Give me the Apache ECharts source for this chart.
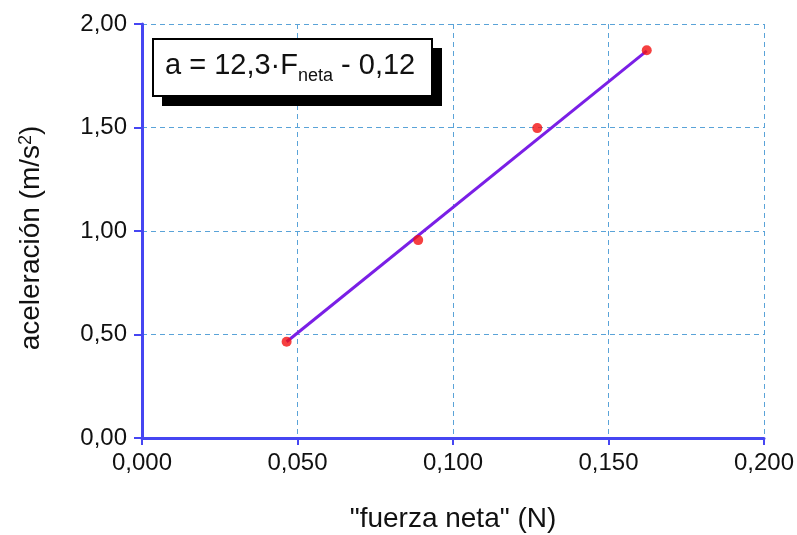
<!DOCTYPE html>
<html>
<head>
<meta charset="utf-8">
<script src="https://cdn.jsdelivr.net/npm/echarts@6/dist/echarts.min.js"></script>
<style>
  html, body { margin: 0; padding: 0; background: #fff; }
  #chart { width: 797px; height: 535px; }
</style>
</head>
<body>
<div id="chart"></div>
<script>
  // measured points
  var fuerza = [0.0465, 0.0888, 0.1271, 0.1623];
  var aceleracion = [0.465, 0.956, 1.497, 1.873];
  // fitted line ends
  var fitX = [0.0465, 0.1623];
  var fitY = [0.465, 1.87];

  var axisBlue = '#4646f2';
  var gridBlue = '#5aa3d8';
  var font = '"Liberation Sans", Arial, sans-serif';

  var chart = echarts.init(document.getElementById('chart'));

  var points = fuerza.map(function (x, i) { return [x, aceleracion[i]]; });
  var fit = fitX.map(function (x, i) { return [x, fitY[i]]; });

  var option = {
    animation: false,
    backgroundColor: '#fff',
    grid: { left: 142, right: 33, top: 24, bottom: 97, containLabel: false, outerBoundsMode: 'none' },
    xAxis: {
      type: 'value',
      min: 0, max: 0.2, interval: 0.05,
      name: '"fuerza neta" (N)',
      nameLocation: 'middle',
      nameGap: 67,
      nameTextStyle: { color: '#111', fontSize: 28, fontFamily: font },
      axisLine: { show: true, onZero: false, lineStyle: { color: axisBlue, width: 3 } },
      axisTick: { show: true, length: 7, lineStyle: { color: axisBlue, width: 2 } },
      axisLabel: {
        color: '#111', fontSize: 24, fontFamily: font, margin: 13,
        formatter: function (v) { return v.toFixed(3).replace('.', ','); }
      },
      splitLine: { show: true, lineStyle: { color: gridBlue, type: [5, 4], width: 1 } }
    },
    yAxis: {
      type: 'value',
      min: 0, max: 2, interval: 0.5,
      name: 'aceleración (m/s{sup|2})',
      nameLocation: 'middle',
      nameGap: 97,
      nameTextStyle: {
        color: '#111', fontSize: 28, fontFamily: font, padding: [0, 14, 0, 0],
        rich: { sup: { fontSize: 18, fontFamily: font, color: '#111', verticalAlign: 'top', padding: [0, 0, 10, 0] } }
      },
      axisLine: { show: true, onZero: false, lineStyle: { color: axisBlue, width: 3 } },
      axisTick: { show: true, length: 8, lineStyle: { color: axisBlue, width: 2 } },
      axisLabel: {
        color: '#111', fontSize: 24, fontFamily: font, margin: 15,
        formatter: function (v) { return v.toFixed(2).replace('.', ','); }
      },
      splitLine: { show: true, lineStyle: { color: gridBlue, type: [5, 4], width: 1 } }
    },
    series: [
      {
        type: 'line',
        data: fit,
        symbol: 'none',
        lineStyle: { color: '#7a1fe6', width: 3 },
        z: 2
      },
      {
        type: 'scatter',
        data: points,
        symbol: 'circle',
        symbolSize: 10,
        itemStyle: { color: '#f21010' },
        z: 3
      }
    ],
    graphic: [
      {
        type: 'rect',
        shape: { x: 162, y: 48, width: 280, height: 58 },
        style: { fill: '#000' },
        z: 10
      },
      {
        type: 'rect',
        shape: { x: 153, y: 39, width: 279, height: 57 },
        style: { fill: '#fff', stroke: '#000', lineWidth: 2 },
        z: 11
      },
      {
        type: 'text',
        left: 165,
        top: 51,
        z: 12,
        style: {
          text: '{m|a = 12,3·F}{s|neta}{m| - 0,12}',
          rich: {
            m: { fontSize: 29, fontFamily: font, fill: '#111', lineHeight: 40, verticalAlign: 'middle' },
            s: { fontSize: 18, fontFamily: font, fill: '#111', lineHeight: 40, verticalAlign: 'bottom' }
          }
        }
      }
    ]
  };

  chart.setOption(option);
</script>
</body>
</html>
